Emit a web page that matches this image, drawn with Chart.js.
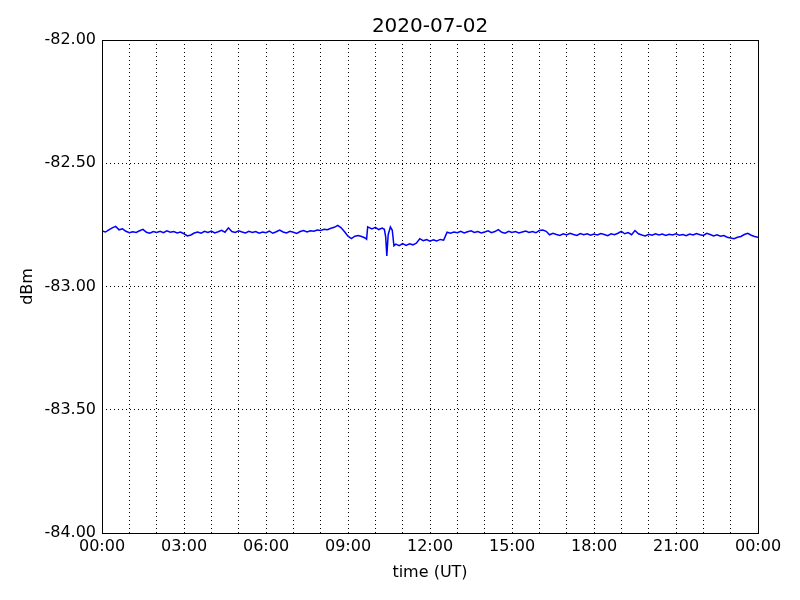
<!DOCTYPE html>
<html>
<head>
<meta charset="utf-8">
<script src="https://cdn.jsdelivr.net/npm/chart.js@4/dist/chart.umd.min.js"></script>
<style>
  html, body { margin: 0; padding: 0; background: #fff; }
  #wrap { width: 800px; height: 600px; }
</style>
</head>
<body>
<div id="wrap"><canvas id="chart" width="800" height="600"></canvas></div>
<script>
// время в часах (UT)
const hours = [
    0.000, 0.125, 0.250, 0.375, 0.500, 0.625, 0.750, 0.875,
    1.000, 1.125, 1.250, 1.375, 1.500, 1.625, 1.750, 1.875,
    2.000, 2.125, 2.250, 2.375, 2.500, 2.625, 2.750, 2.875,
    3.000, 3.125, 3.250, 3.375, 3.500, 3.625, 3.750, 3.875,
    4.000, 4.125, 4.250, 4.375, 4.500, 4.625, 4.750, 4.875,
    5.000, 5.125, 5.250, 5.375, 5.500, 5.625, 5.750, 5.875,
    6.000, 6.125, 6.250, 6.375, 6.500, 6.625, 6.750, 6.875,
    7.000, 7.125, 7.250, 7.375, 7.500, 7.625, 7.750, 7.875,
    8.000, 8.125, 8.250, 8.375, 8.500, 8.625, 8.750, 8.875,
    9.000, 9.125, 9.250, 9.375, 9.500, 9.625, 9.680, 9.720, 9.875,
    10.000, 10.125, 10.250, 10.330, 10.380, 10.420, 10.470, 10.550, 10.620, 10.680, 10.750, 10.875,
    11.000, 11.125, 11.250, 11.375, 11.500, 11.625, 11.750, 11.875,
    12.000, 12.125, 12.250, 12.375, 12.500, 12.625, 12.750, 12.875,
    13.000, 13.125, 13.250, 13.375, 13.500, 13.625, 13.750, 13.875,
    14.000, 14.125, 14.250, 14.375, 14.500, 14.625, 14.750, 14.875,
    15.000, 15.125, 15.250, 15.375, 15.500, 15.625, 15.750, 15.875,
    16.000, 16.125, 16.250, 16.375, 16.500, 16.625, 16.750, 16.875,
    17.000, 17.125, 17.250, 17.375, 17.500, 17.625, 17.750, 17.875,
    18.000, 18.125, 18.250, 18.375, 18.500, 18.625, 18.750, 18.875,
    19.000, 19.125, 19.250, 19.375, 19.500, 19.625, 19.750, 19.875,
    20.000, 20.125, 20.250, 20.375, 20.500, 20.625, 20.750, 20.875,
    21.000, 21.125, 21.250, 21.375, 21.500, 21.625, 21.750, 21.875,
    22.000, 22.125, 22.250, 22.375, 22.500, 22.625, 22.750, 22.875,
    23.000, 23.125, 23.250, 23.375, 23.500, 23.625, 23.750, 23.875,
    24.000
];
// уровень сигнала, dBm
const dbm = [
    -82.775, -82.779, -82.770, -82.762, -82.756, -82.770, -82.766, -82.776,
    -82.782, -82.778, -82.781, -82.774, -82.768, -82.780, -82.784, -82.777,
    -82.781, -82.776, -82.782, -82.774, -82.780, -82.777, -82.783, -82.779,
    -82.786, -82.795, -82.791, -82.783, -82.779, -82.784, -82.776, -82.781,
    -82.775, -82.783, -82.778, -82.772, -82.780, -82.762, -82.777, -82.781,
    -82.774, -82.779, -82.783, -82.776, -82.781, -82.777, -82.784, -82.779,
    -82.782, -82.775, -82.784, -82.778, -82.771, -82.779, -82.783, -82.776,
    -82.780, -82.785, -82.777, -82.773, -82.779, -82.774, -82.776, -82.771,
    -82.773, -82.768, -82.770, -82.764, -82.760, -82.752, -82.762, -82.778,
    -82.796, -82.806, -82.796, -82.793, -82.797, -82.803, -82.808, -82.758, -82.766,
    -82.760, -82.769, -82.763, -82.768, -82.800, -82.876, -82.790, -82.758, -82.772, -82.835, -82.828, -82.834,
    -82.826, -82.833, -82.827, -82.831, -82.824, -82.806, -82.814, -82.810,
    -82.816, -82.811, -82.815, -82.809, -82.812, -82.780, -82.784, -82.779,
    -82.782, -82.776, -82.783, -82.778, -82.774, -82.781, -82.777, -82.783,
    -82.779, -82.774, -82.782, -82.777, -82.769, -82.780, -82.784, -82.776,
    -82.781, -82.777, -82.783, -82.779, -82.775, -82.781, -82.777, -82.782,
    -82.773, -82.771, -82.776, -82.790, -82.784, -82.789, -82.793, -82.786,
    -82.791, -82.784, -82.789, -82.793, -82.785, -82.790, -82.786, -82.792,
    -82.787, -82.791, -82.785, -82.789, -82.794, -82.786, -82.790, -82.784,
    -82.776, -82.786, -82.781, -82.790, -82.773, -82.786, -82.791, -82.795,
    -82.788, -82.792, -82.786, -82.791, -82.787, -82.793, -82.788, -82.791,
    -82.786, -82.792, -82.789, -82.794, -82.787, -82.791, -82.785, -82.790,
    -82.793, -82.784, -82.789, -82.795, -82.790, -82.796, -82.793, -82.800,
    -82.803, -82.806, -82.800, -82.797, -82.789, -82.784, -82.792, -82.797,
    -82.800
];
const xTickHours = [0, 1, 2, 3, 4, 5, 6, 7, 8, 9, 10, 11, 12, 13, 14, 15, 16, 17, 18, 19, 20, 21, 22, 23, 24];
const yTicks = [-84, -83.5, -83, -82.5, -82];
const chartTitle = "2020-07-02";

const FONT = "'DejaVu Sans', sans-serif";

/** рамка вокруг области графика, как в matplotlib */
const framePlugin = {
    id: "frame",
    afterDraw(chart) {
        const a = chart.chartArea;
        const ctx = chart.ctx;
        ctx.save();
        ctx.strokeStyle = "#000";
        ctx.lineWidth = 1;
        ctx.strokeRect(Math.round(a.left) + 0.5, Math.round(a.top) + 0.5,
            Math.round(a.right - a.left), Math.round(a.bottom - a.top));
        ctx.restore();
    }
};

const points = hours.map((h, i) => ({ x: h, y: dbm[i] }));

new Chart(document.getElementById("chart").getContext("2d"), {
    type: "line",
    data: {
        datasets: [{
            data: points,
            borderColor: "#0000ff",
            borderWidth: 1.5,
            pointRadius: 0,
            fill: false,
            tension: 0
        }]
    },
    options: {
        responsive: false,
        animation: false,
        layout: { padding: { left: 14, right: 42, top: 0, bottom: 14 } },
        plugins: {
            legend: { display: false },
            tooltip: { enabled: false },
            title: {
                display: true,
                fullSize: false,
                text: chartTitle,
                color: "#000",
                font: { family: FONT, size: 20, weight: "normal", lineHeight: 1.2 },
                padding: { top: 15, bottom: 1 }
            }
        },
        scales: {
            x: {
                type: "linear",
                min: 0,
                max: 24,
                afterFit(scale) { scale.height = 53; },
                afterBuildTicks(scale) {
                    scale.ticks = xTickHours.map(v => ({ value: v }));
                },
                ticks: {
                    autoSkip: false,
                    maxRotation: 0,
                    color: "#000",
                    padding: 4,
                    font: { family: FONT, size: 16 },
                    callback: v => (v % 3 === 0) ? String(v % 24).padStart(2, "0") + ":00" : ""
                },
                grid: { color: "#000", lineWidth: 1, drawTicks: false },
                border: { display: false, dash: [1, 3] },
                title: {
                    display: true,
                    text: "time (UT)",
                    color: "#000",
                    font: { family: FONT, size: 16 },
                    padding: { top: 4 }
                }
            },
            y: {
                min: -84,
                max: -82,
                afterFit(scale) { scale.width = 88; },
                afterBuildTicks(scale) {
                    scale.ticks = yTicks.map(v => ({ value: v }));
                },
                ticks: {
                    color: "#000",
                    padding: 6,
                    font: { family: FONT, size: 16 },
                    callback: v => Number(v).toFixed(2)
                },
                grid: { color: "#000", lineWidth: 1, drawTicks: false },
                border: { display: false, dash: [1, 3] },
                title: {
                    display: true,
                    text: "dBm",
                    color: "#000",
                    font: { family: FONT, size: 16 },
                    padding: { bottom: 8 }
                }
            }
        }
    },
    plugins: [framePlugin]
});
</script>
</body>
</html>
